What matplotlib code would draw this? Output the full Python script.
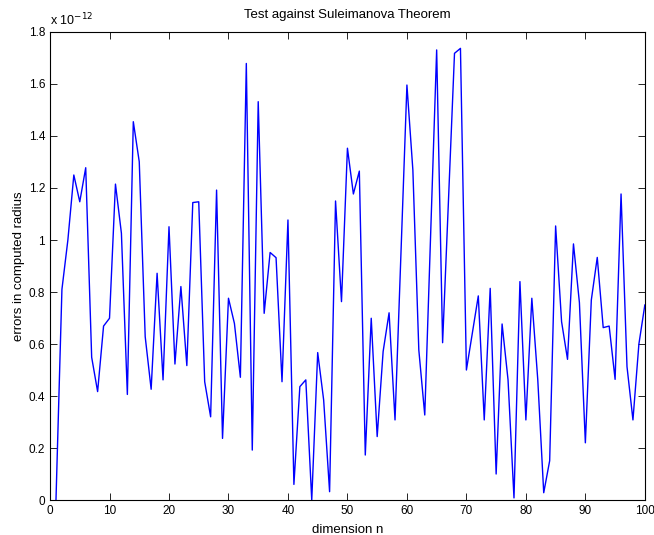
import matplotlib
matplotlib.use("Agg")
import matplotlib.pyplot as plt
from matplotlib.ticker import FuncFormatter, MultipleLocator

plt.rcParams['font.family'] = ['Liberation Sans', 'DejaVu Sans']

# dimension n = 1..100
dims = list(range(1, 101))
# errors in computed radius, in units of 1e-12
errors = [
    0.00, 0.81, 1.00, 1.25, 1.147, 1.278, 0.549, 0.417, 0.669, 0.699,
    1.215, 1.026, 0.406, 1.455, 1.301, 0.628, 0.426, 0.872, 0.462, 1.051,
    0.523, 0.821, 0.517, 1.144, 1.147, 0.455, 0.320, 1.192, 0.237, 0.776,
    0.679, 0.472, 1.679, 0.192, 1.532, 0.718, 0.952, 0.932, 0.455, 1.077,
    0.060, 0.436, 0.462, 0.000, 0.567, 0.385, 0.032, 1.150, 0.763, 1.353,
    1.177, 1.265, 0.173, 0.699, 0.244, 0.571, 0.720, 0.308, 0.950, 1.596,
    1.269, 0.577, 0.327, 1.030, 1.731, 0.605, 1.160, 1.718, 1.737, 0.500,
    0.642, 0.785, 0.308, 0.814, 0.100, 0.677, 0.462, 0.008, 0.840, 0.308,
    0.776, 0.462, 0.028, 0.151, 1.054, 0.686, 0.541, 0.985, 0.759, 0.220,
    0.769, 0.933, 0.663, 0.669, 0.464, 1.177, 0.513, 0.308, 0.600, 0.750,
]

fig = plt.figure(figsize=(6.54, 5.35), dpi=100)
ax = fig.add_axes([0.0765, 0.0654, 0.9095, 0.8748])
ax.plot(dims, errors, color=(0, 0, 1), linewidth=1.0)

ax.set_xlim(0, 100)
ax.set_ylim(0, 1.8)
ax.xaxis.set_major_locator(MultipleLocator(10))
ax.yaxis.set_major_locator(MultipleLocator(0.2))
ax.yaxis.set_major_formatter(FuncFormatter(lambda v, p: f"{v:g}"))
ax.tick_params(direction='in', top=True, right=True, labelsize=8.5, length=5, width=0.6)
for s in ax.spines.values():
    s.set_linewidth(0.8)

ax.set_title("Test against Suleimanova Theorem", fontsize=9.5, pad=10)
ax.set_xlabel("dimension n", fontsize=9.5, labelpad=5)
ax.set_ylabel("errors in computed radius", fontsize=9.5, labelpad=3)
ax.text(0.0, 1.008, r"x 10$^{-12}$", transform=ax.transAxes, fontsize=9,
        ha='left', va='bottom')

fig.savefig("out.png", dpi=100)
